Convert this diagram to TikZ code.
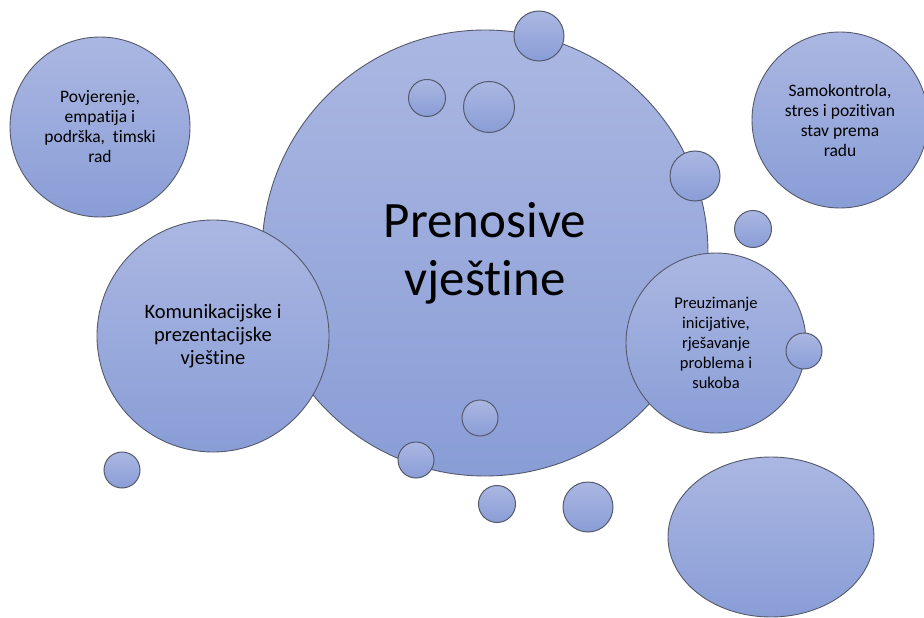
\documentclass[tikz,border=0pt]{standalone}
\usepackage{fontspec}
\setmainfont{Carlito}[Ligatures=NoCommon]
\usetikzlibrary{shapes.geometric}

\definecolor{bubbletop}{RGB}{171,183,226}
\definecolor{bubblebottom}{RGB}{137,157,214}
\definecolor{bubbleline}{RGB}{84,90,108}

\tikzset{
    bubble/.style={circle, draw=bubbleline, line width=0.9pt,
        top color=bubbletop, bottom color=bubblebottom,
        inner sep=0pt, minimum size=#1, align=center, text=black},
    label17/.style={font=\fontsize{17.5}{20}\selectfont},
}

\begin{document}
\begin{tikzpicture}[x=1pt,y=-1pt]
        \useasboundingbox (0,0) rectangle (924,618);

        % Draw the central bubble
        \node[bubble=446pt, font=\fontsize{51}{58}\selectfont] (Main) at (485,253) {Prenosive\\vještine};

        % Draw the skill bubbles
        \node[bubble=180pt, label17] (Team) at (100,127) {Povjerenje,\\empatija i\\podrška,~ timski\\rad};
        \node[bubble=232pt, font=\fontsize{20.5}{23}\selectfont] (Comm) at (213,336) {Komunikacijske i\\prezentacijske\\vještine};
        \node[bubble=176pt, label17] (Self) at (840,120) {Samokontrola,\\stres i pozitivan\\stav prema\\radu};
        \node[bubble=180pt, font=\fontsize{16.5}{20}\selectfont] (Init) at (716,343) {Preuzimanje\\inicijative,\\rješavanje\\problema i\\sukoba};
        \node[bubble=0pt, ellipse, minimum width=206pt, minimum height=160pt] (Empty) at (771,537) {};

        % Draw the small bubbles
        \foreach \x/\y/\d [count=\i] in {539/36/50, 427/98/37, 489/107/51, 695/176/50,
                753/229/37, 804/351/36, 480/418/36, 416/460/36,
                497/504/37, 588/507/50, 122/470/36}
            \node[bubble=\d pt, line width=1pt] (B_\i) at (\x,\y) {};

\end{tikzpicture}
\end{document}
